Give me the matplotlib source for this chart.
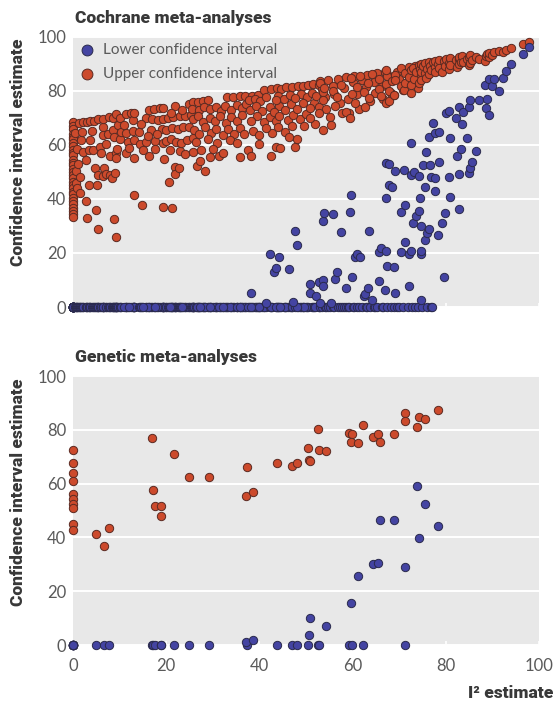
import numpy as np
import matplotlib.pyplot as plt

# ---- Cochrane meta-analyses ----
# studies whose lower confidence limit of I2 is 0
coch_zero_i2 = [
    0, 0, 0, 0, 0, 0, 0, 0, 0, 0, 0, 0, 0, 0, 0,
    0, 0, 0, 0, 0, 0, 0, 0, 0, 0, 0, 0, 0, 0, 0,
    0.5, 0.6, 0.7, 0.8, 0.9, 1.0, 1.2, 1.4, 1.5, 1.7, 1.9,
    2.1, 2.2, 2.8, 2.9, 3.0, 3.1, 3.4, 3.5, 3.7, 3.7, 4.1,
    4.2, 4.6, 4.8, 4.9, 5.1, 5.4, 5.4, 5.4, 5.8, 6.0, 6.4,
    6.4, 6.4, 6.6, 6.4, 7.0, 7.1, 7.5, 7.7, 7.9, 8.0, 8.3,
    8.5, 8.5, 8.7, 8.8, 9.0, 9.2, 9.2, 9.2, 9.3, 9.5, 9.7,
    10.0, 10.0, 10.3, 11.3, 11.3, 11.4, 11.8, 12.4, 12.8, 12.8,
    13.2, 13.2, 13.2, 13.2, 14.1, 14.4, 14.8, 15.7, 15.7, 16.3,
    16.4, 16.8, 17.0, 17.3, 17.7, 18.2, 18.6, 19.0, 19.3, 19.3,
    19.4, 19.4, 19.6, 20.0, 20.0, 20.4, 20.5, 21.1, 21.3, 21.3,
    21.4, 21.8, 21.9, 22.0, 22.2, 22.5, 22.7, 22.9, 22.9, 23.2,
    23.6, 24.0, 24.0, 24.4, 24.9, 25.0, 25.4, 25.7, 25.7, 11.0,
    14.5, 16.0, 18.0, 21.0, 23.5, 12.0, 15.0, 17.5, 20.8,
    25.8, 26.8, 27.9, 28.9, 33.1, 34.3, 35.8, 37.0,
    25.5, 27.0, 28.2, 29.5, 30.6, 31.8, 32.7, 33.9, 35.2, 36.3, 37.2,
    25.8, 26.9, 28.0, 29.3, 30.4, 31.6, 32.8, 34.0, 35.1, 36.2,
    25.9, 27.1, 28.4, 29.6, 30.8, 32.1, 33.3, 34.6, 35.9, 36.8,
    26.4, 28.9, 31.0, 33.6, 35.3, 27.5, 30.0,
    26.7, 28.4, 27.2, 29.5, 31.3, 32.3, 35.8,
    38.5, 39.8, 41.0, 42.6, 43.7, 44.7, 45.8, 47.1, 48.3, 49.4, 50.5, 51.6, 52.7,
    37.8, 39.0, 40.2, 41.5, 44.0, 45.2, 46.5, 49.0, 50.2, 51.4,
    37.9, 39.3, 40.5, 44.3, 45.5, 46.8, 49.3, 51.8, 52.9,
    39.6, 40.9, 42.2, 43.6, 46.1, 48.7, 50.0,
    38.6, 40.0, 42.7, 44.0, 45.6, 47.0, 49.6, 51.9,
    37.5, 38.2, 42.4, 43.5, 44.4, 47.7, 48.1, 40.0,
    53.0, 53.5, 54.0, 54.3, 54.8, 55.2, 55.8, 56.1, 56.9, 57.3,
    57.8, 58.2, 58.6, 59.0, 59.2, 60.2, 60.4, 61.0, 61.4, 62.0,
    62.9, 63.2, 63.8, 64.5, 64.8, 65.2, 66.3, 66.6, 67.5, 68.2,
    68.9, 69.6, 70.0, 70.9, 71.8, 72.8, 73.5, 74.0, 75.0, 76.0,
    76.8, 77.1,
]
coch_zero_upper = [
    68.4, 67.1, 65.9, 64.2, 63.0, 62.1, 60.7, 59.8, 58.3, 57.0, 56.2, 54.6, 53.5, 52.6, 51.1,
    49.9, 48.7, 47.8, 46.3, 45.0, 43.9, 42.7, 41.8, 40.2, 39.3, 38.1, 36.6, 35.4, 34.5, 33.3,
    64.5, 46.0, 50.5, 58.5, 44.0, 53.0, 68.3, 48.3, 42.1, 61.8, 64.8,
    68.4, 57.5, 54.4, 39.4, 68.6, 32.9, 58.2, 45.0, 61.8, 68.8, 65.0,
    58.0, 69.0, 51.3, 35.9, 45.0, 49.0, 28.8, 69.6, 59.1, 57.0, 66.8,
    63.7, 48.5, 51.5, 69.8, 60.5, 49.2, 64.0, 70.5, 48.8, 56.0, 47.7,
    70.0, 65.5, 32.5, 63.0, 49.8, 26.1, 71.5, 57.0, 55.0, 58.5, 67.4,
    69.9, 62.2, 64.7, 64.3, 56.9, 71.5, 61.0, 71.7, 69.3, 65.0,
    72.0, 61.8, 55.0, 41.5, 64.9, 60.4, 37.8, 69.9, 61.2, 72.9,
    56.0, 65.5, 69.5, 73.2, 61.6, 69.3, 73.6, 66.1, 69.5, 60.8,
    73.8, 37.2, 54.8, 65.6, 61.6, 69.9, 46.4, 62.2, 66.3, 36.6,
    70.2, 51.9, 49.3, 74.4, 61.2, 65.9, 51.4, 70.7, 57.9, 60.6,
    66.6, 70.8, 56.8, 61.8, 66.8, 75.2, 71.2, 62.6, 57.5, 67.5,
    67.8, 63.5, 64.0, 72.0, 72.8, 58.8, 58.0, 58.5, 58.2,
    75.9, 76.1, 76.3, 76.5, 77.9, 77.9, 78.0, 78.2,
    73.5, 72.8, 73.9, 73.2, 74.0, 72.6, 74.5, 73.1, 74.8, 73.6, 75.0,
    69.6, 70.7, 68.4, 70.1, 68.9, 70.8, 68.2, 70.3, 68.7, 71.0,
    65.5, 63.9, 66.7, 64.6, 66.0, 63.7, 65.8, 64.2, 66.4, 64.0,
    61.0, 62.3, 60.8, 62.0, 60.7, 58.0, 58.5,
    52.2, 50.5, 54.1, 55.7, 55.9, 57.2, 55.4,
    78.3, 78.6, 80.3, 80.8, 81.1, 80.9, 81.6, 81.4, 82.0, 81.8, 82.4, 82.6, 82.3,
    76.5, 77.0, 76.2, 77.8, 78.1, 77.0, 78.6, 79.0, 77.8, 79.4,
    72.8, 74.4, 72.5, 74.6, 73.0, 75.0, 75.5, 75.6, 74.0,
    70.6, 68.4, 70.2, 68.8, 69.3, 69.6, 71.5,
    65.0, 63.6, 64.4, 66.5, 64.8, 66.9, 67.2, 67.6,
    58.1, 55.9, 55.9, 59.4, 58.8, 59.1, 62.1, 60.5,
    83.6, 80.8, 77.6, 73.2, 84.0, 70.5, 82.0, 78.8, 84.4, 75.5,
    71.7, 81.0, 85.0, 77.0, 71.7, 83.2, 85.5, 79.0, 73.5, 84.2,
    81.4, 86.0, 76.2, 83.5, 79.2, 86.6, 82.0, 77.1, 86.2, 79.4,
    78.5, 87.2, 84.5, 80.4, 87.9, 84.3, 89.2, 81.0, 88.6, 85.5,
    89.8, 87.3,
]

# studies whose lower confidence limit is above 0
coch_pos_i2 = [
    38.1, 41.5, 42.2, 43.2, 43.6, 44.2, 46.3, 47.2, 47.6, 48.1,
    50.8, 50.8, 52.2, 52.8, 53.1, 53.6, 53.7, 53.7, 53.8, 55.4,
    55.8, 56.3, 56.6, 57.5, 58.7, 59.4, 59.7, 59.9, 60.6, 60.9,
    61.6, 62.4, 62.6, 63.3, 63.5, 64.1, 65.7, 65.7, 66.0, 66.9,
    67.1, 67.1, 67.3, 67.8, 68.4, 67.1, 67.8, 69.0, 69.1, 69.2,
    70.3, 70.4, 71.0, 71.2, 71.2, 72.1, 72.2, 72.5, 72.5, 72.6,
    73.0, 73.2, 73.7, 74.2, 74.3, 74.4, 74.6, 74.6, 74.6, 74.7,
    75.2, 75.5, 75.5, 75.7, 75.9, 76.4, 76.4, 76.6, 76.9, 77.3,
    77.8, 77.8, 77.8, 78.4, 78.5, 78.5, 79.3, 79.7, 79.8, 80.0,
    80.6, 80.7, 80.9, 81.0, 82.2, 82.5, 82.8, 82.8, 82.8, 83.2,
    83.4, 83.8, 84.5, 85.0, 85.0, 85.2, 85.2, 85.7, 86.5, 87.1,
    88.4, 88.6, 88.9, 89.3, 89.3, 90.0, 90.4, 91.5, 92.2, 92.9,
    94.1, 96.5, 97.8,
]
coch_pos_lower = [
    5.3, 1.3, 19.5, 13.1, 14.3, 18.6, 14.1, 1.9, 28.1, 23.0,
    8.6, 5.3, 4.1, 9.4, 1.6, 32.0, 10.1, 7.8, 34.7, 1.4,
    34.4, 10.3, 13.1, 27.9, 7.2, 35.2, 41.5, 11.0, 18.6, 19.8,
    18.4, 4.1, 4.8, 7.2, 28.3, 2.6, 20.5, 9.6, 21.7, 6.3,
    20.7, 40.3, 15.3, 45.2, 44.3, 53.2, 52.8, 14.7, 5.1, 50.4,
    20.3, 35.3, 50.7, 37.8, 24.0, 19.5, 7.8, 20.9, 48.9, 60.6,
    31.0, 50.1, 33.7, 35.7, 48.6, 40.5, 30.1, 19.6, 2.6, 20.7,
    52.6, 44.6, 24.8, 57.3, 27.3, 28.9, 63.1, 52.6, 48.3, 68.3,
    43.1, 47.9, 64.6, 26.5, 53.6, 64.9, 31.2, 11.0, 34.7, 71.7,
    48.0, 72.7, 62.5, 40.6, 69.9, 56.0, 36.2, 49.1, 73.9, 58.5,
    67.7, 72.3, 62.5, 49.8, 73.9, 51.4, 76.7, 53.6, 57.9, 76.7,
    82.2, 73.6, 76.9, 84.3, 71.1, 81.9, 84.3, 80.1, 84.7, 87.5,
    90.0, 93.7, 96.4,
]
coch_pos_upper = [
    69.0, 66.2, 74.0, 72.3, 76.8, 70.9, 62.8, 71.2, 77.4, 73.4,
    70.0, 73.8, 78.2, 71.8, 83.0, 79.5, 65.6, 76.5, 81.2, 67.4,
    80.0, 74.3, 77.8, 82.2, 72.4, 69.9, 84.7, 78.9, 75.6, 81.6,
    85.6, 79.8, 74.2, 82.8, 77.3, 86.4, 80.9, 84.3, 78.0, 87.0,
    82.5, 75.4, 85.4, 76.3, 83.6, 87.9, 80.1, 78.5, 86.1, 84.0,
    88.4, 81.8, 80.4, 86.8, 83.1, 89.0, 85.0, 79.4, 87.6, 82.4,
    88.6, 84.6, 86.9, 89.6, 82.8, 88.0, 85.9, 90.1, 87.2, 83.9,
    89.1, 86.5, 90.4, 84.8, 88.3, 90.6, 86.2, 89.4, 87.8, 90.9,
    88.9, 91.2, 86.9, 90.0, 91.5, 88.4, 87.2, 91.0, 89.4, 91.8,
    88.0, 90.3, 92.2, 89.5, 91.5, 89.0, 91.7, 90.0, 92.4, 90.6,
    92.8, 90.9, 91.9, 89.6, 92.7, 90.3, 93.2, 91.3, 92.7, 91.7,
    91.2, 93.0, 93.7, 92.6, 94.0, 93.3, 94.5, 94.9, 94.6, 95.2,
    95.8, 97.4, 98.3,
]

# ---- Genetic meta-analyses ----
gen_zero_i2 = [0, 0, 0, 0, 0, 0, 0, 0, 0, 0,
               4.9, 6.7, 7.8, 16.9, 17.1, 17.5, 18.9, 18.9, 21.7, 25.0, 29.2,
               37.3, 43.8, 47.0, 48.1, 50.4, 52.5, 52.8, 59.2, 59.9, 62.2, 71.3]
gen_zero_upper = [72.6, 67.7, 63.8, 60.8, 56.2, 54.3, 52.5, 50.9, 45.0, 42.6,
                  41.1, 36.8, 43.6, 76.8, 57.7, 51.6, 51.6, 48.0, 70.9, 62.3, 62.3,
                  66.0, 67.7, 66.6, 67.7, 73.1, 80.2, 72.5, 79.0, 78.6, 81.9, 86.3]
gen_pos_i2 = [37.1, 38.6, 50.6, 50.9, 54.3, 59.7, 61.2, 64.4,
              65.4, 65.8, 68.8, 71.3, 73.9, 74.3, 75.5, 78.4]
gen_pos_lower = [1.2, 1.9, 3.9, 9.9, 6.9, 15.6, 25.7, 30.1,
                 30.6, 46.4, 46.4, 29.0, 59.3, 39.6, 52.6, 44.2]
gen_pos_upper = [55.5, 57.0, 68.9, 68.3, 72.0, 75.4, 75.1, 77.3,
                 78.3, 75.3, 78.5, 83.3, 80.9, 84.8, 83.9, 87.4]

RED = '#cc4a2c'
RED_EDGE = '#5a2a22'
BLUE = '#4444a2'
BLUE_EDGE = '#2a2a4c'
TICK_COL = '#5a5a5a'
TITLE_COL = '#383838'
MS = 36

plt.rcParams['font.family'] = ['Lato', 'DejaVu Sans']

fig = plt.figure(figsize=(5.58, 7.03), dpi=100)
ax1 = fig.add_axes([0.1308, 0.5633, 0.835, 0.3841])
ax2 = fig.add_axes([0.1308, 0.0825, 0.835, 0.3826])


def style(ax):
    ax.set_facecolor('#e8e8e8')
    ax.set_xlim(0, 100)
    ax.set_ylim(0, 100)
    for s in ax.spines.values():
        s.set_visible(False)
    ax.set_xticks(range(0, 101, 20))
    ax.set_yticks(range(0, 101, 20))
    ax.grid(axis='y', color='white', lw=1.4)
    ax.set_axisbelow(True)
    ax.tick_params(axis='y', length=0, pad=5, labelsize=12, labelcolor=TICK_COL)
    ax.tick_params(axis='x', direction='in', length=3, width=1.2, color='white',
                   pad=9, labelsize=12, labelcolor=TICK_COL)


def draw(ax, zi2, zup, pi2, plo, pup):
    up_x = np.concatenate([zi2, pi2])
    up_y = np.concatenate([zup, pup])
    lo_x = np.concatenate([zi2, pi2])
    lo_y = np.concatenate([np.zeros(len(zi2)), plo])
    r = ax.scatter(up_x, up_y, s=MS, c=RED, edgecolors=RED_EDGE, linewidths=0.7,
                   clip_on=False, zorder=3, label='Upper confidence interval')
    b = ax.scatter(lo_x, lo_y, s=MS, c=BLUE, edgecolors=BLUE_EDGE, linewidths=0.7,
                   clip_on=False, zorder=4, label='Lower confidence interval')
    return b, r


style(ax1)
style(ax2)
b, r = draw(ax1, coch_zero_i2, coch_zero_upper, coch_pos_i2, coch_pos_lower, coch_pos_upper)
draw(ax2, gen_zero_i2, gen_zero_upper, gen_pos_i2, gen_pos_lower, gen_pos_upper)
ax1.tick_params(axis='x', labelbottom=False)

leg = ax1.legend(handles=[b, r], loc='upper left', bbox_to_anchor=(-0.015, 1.0),
                 frameon=False, fontsize=11, labelspacing=0.65, handletextpad=0.0,
                 borderaxespad=0.2, borderpad=0.2, markerscale=1.3, scatterpoints=1)
for t in leg.get_texts():
    t.set_color(TICK_COL)

fig.text(0.134, 0.974, 'Cochrane meta-analyses', fontsize=12.5, fontweight='heavy',
         color=TITLE_COL, va='center', ha='left', family='Roboto')
fig.text(0.134, 0.492, 'Genetic meta-analyses', fontsize=12.5, fontweight='heavy',
         color=TITLE_COL, va='center', ha='left', family='Roboto')
for yc in (0.784, 0.300):
    fig.text(0.032, yc, 'Confidence interval estimate', rotation=90, fontsize=12.5,
             fontweight='heavy', color=TITLE_COL, va='center', ha='center', family='Roboto')
fig.text(0.991, 0.014, 'I² estimate', fontsize=12.5, fontweight='heavy',
         color=TITLE_COL, va='center', ha='right', family='Roboto')

fig.savefig('out.png', dpi=100)
